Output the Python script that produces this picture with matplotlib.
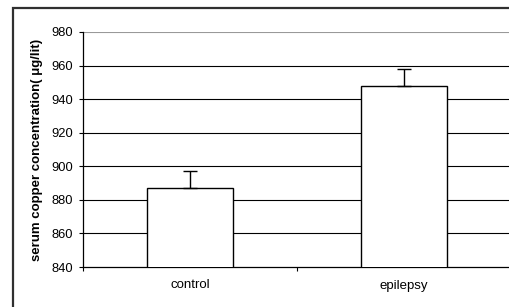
import matplotlib
matplotlib.use("Agg")
import matplotlib.pyplot as plt
from matplotlib.patches import Rectangle

categories = ["control", "epilepsy"]
values = [887, 948]
errors = [10, 10]
yticks = [840, 860, 880, 900, 920, 940, 960, 980]

plt.rcParams['font.family'] = ['Liberation Sans', 'DejaVu Sans']

W, H = 510, 307
fig = plt.figure(figsize=(W/100, H/100), dpi=100)
fig.patch.set_facecolor("white")

# outer border
fig.patches.append(Rectangle((13/W, -0.1), 1.1, (H-8)/H + 0.1, transform=fig.transFigure,
                             fill=False, edgecolor="#303030", linewidth=1.6, figure=fig))

left, right, top, bottom = 83, 511, 32, 267
ax = fig.add_axes([left/W, 1-bottom/H, (right-left)/W, (bottom-top)/H])

x = [0, 1]
ax.bar(x, values, width=0.4, color="white", edgecolor="black", linewidth=1.0, zorder=3)
ax.errorbar(x, values, yerr=[[0, 0], errors], fmt="none", ecolor="black",
            elinewidth=1.0, capsize=5, capthick=1.0, zorder=4)

ax.set_xlim(-0.5, 1.5)
ax.set_ylim(840, 980)
ax.set_yticks(yticks)
ax.set_yticklabels([str(t) for t in yticks], fontsize=9.3)
for t in yticks[1:-1]:
    ax.axhline(t, color="black", linewidth=0.8, zorder=1)
ax.axhline(980, color="#999999", linewidth=0.8, zorder=1)

ax.set_xticks([-0.5, 0.5, 1.5])
ax.set_xticklabels([])
ax.set_xticks(x, minor=True)
ax.set_xticklabels(categories, minor=True, fontsize=9.5)
ax.tick_params(axis="x", which="minor", length=0, pad=9)
ax.tick_params(axis="x", which="major", length=3, width=0.8, direction="out")
ax.tick_params(axis="y", length=3, width=0.8, direction="out", pad=4)

for s in ["top", "right"]:
    ax.spines[s].set_visible(False)
ax.spines["left"].set_linewidth(0.9)
ax.spines["bottom"].set_linewidth(0.9)

ax.set_ylabel("serum copper concentration( μg/lit)", fontsize=9.5, fontweight="bold", labelpad=6)

fig.savefig("out.png", dpi=100, facecolor="white")
